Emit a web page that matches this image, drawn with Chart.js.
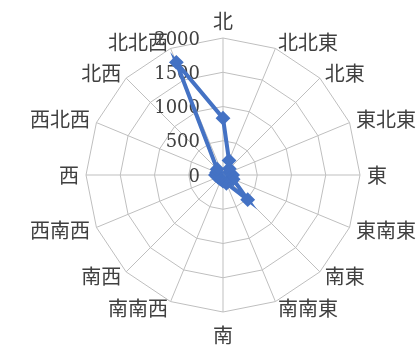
<!DOCTYPE html>
<html lang="ja">
<head>
<meta charset="utf-8">
<script src="https://cdn.jsdelivr.net/npm/chart.js@4.4.1/dist/chart.umd.min.js"></script>
<style>
    html, body { margin: 0; padding: 0; background: #ffffff; }
    #wrap { width: 419px; height: 348px; position: relative; overflow: hidden; }
</style>
</head>
<body>
<div id="wrap"><canvas id="wind-radar-chart"></canvas></div>
<script>
// 16方位
const directions = ['北', '北北東', '北東', '東北東', '東', '東南東', '南東', '南南東',
                    '南', '南南西', '南西', '西南西', '西', '西北西', '北西', '北北西'];

// 値
const counts = [830, 230, 130, 100, 140, 160, 510, 130,
                90, 70, 70, 80, 110, 100, 120, 1780];

// 目盛り
const tickValues = [0, 500, 1000, 1500, 2000];

const COLORS = {
    line: '#4472C4',
    grid: '#bfbfbf',
    text: '#404040'
};

// 目盛りラベル: 軸の左側に右寄せ（Excel風）
// 方位ラベル: 斜めの方位は縦中央揃え（Chart.js標準の配置とは違う）
const excelLabelsPlugin = {
    id: 'excelLabelsPlugin',
    beforeDatasetsDraw(chart) {
        const scale = chart.scales.r;
        const ctx = chart.ctx;
        ctx.save();

        ctx.font = "18px 'DejaVu Serif'";
        ctx.fillStyle = COLORS.text;
        ctx.textAlign = 'right';
        ctx.textBaseline = 'middle';
        tickValues.forEach(v => {
            const d = scale.getDistanceFromCenterForValue(v);
            ctx.fillText(String(v), scale.xCenter - 23, scale.yCenter - d + 2);
        });

        ctx.font = "20px 'Noto Sans CJK JP'";
        chart.data.labels.forEach((label, i) => {
            const angle = i * 360 / chart.data.labels.length;
            let dist = scale.drawingArea + 7;
            if (angle === 180) dist += 6;
            const p = scale.getPointPosition(i, dist);
            if (angle === 0) {
                ctx.textAlign = 'center';
                ctx.textBaseline = 'bottom';
            } else if (angle === 180) {
                ctx.textAlign = 'center';
                ctx.textBaseline = 'top';
            } else if (angle < 180) {
                ctx.textAlign = 'left';
                ctx.textBaseline = 'middle';
            } else {
                ctx.textAlign = 'right';
                ctx.textBaseline = 'middle';
            }
            ctx.fillText(label, p.x, p.y);
        });
        ctx.restore();
    }
};

const canvas = document.getElementById('wind-radar-chart');
const ctx = canvas.getContext('2d');

new Chart(ctx, {
    type: 'radar',
    data: {
        labels: directions,
        datasets: [{
            label: '風向',
            data: counts,
            borderColor: COLORS.line,
            backgroundColor: COLORS.line,
            borderWidth: 4,
            fill: false,
            tension: 0,
            pointStyle: 'rectRot',
            pointRadius: 6,
            pointBorderWidth: 2,
            pointBackgroundColor: COLORS.line,
            pointBorderColor: COLORS.line
        }]
    },
    options: {
        responsive: true,
        maintainAspectRatio: false,
        animation: false,
        layout: {
            padding: { top: 38, bottom: 36, left: 86, right: 58 }
        },
        plugins: {
            legend: { display: false },
            tooltip: { enabled: false }
        },
        scales: {
            r: {
                min: 0,
                max: 2000,
                beginAtZero: true,
                ticks: {
                    stepSize: 500,
                    display: false
                },
                grid: {
                    color: COLORS.grid,
                    lineWidth: 1
                },
                angleLines: {
                    color: COLORS.grid,
                    lineWidth: 1
                },
                pointLabels: {
                    display: false
                }
            }
        }
    },
    plugins: [excelLabelsPlugin]
});
</script>
</body>
</html>
